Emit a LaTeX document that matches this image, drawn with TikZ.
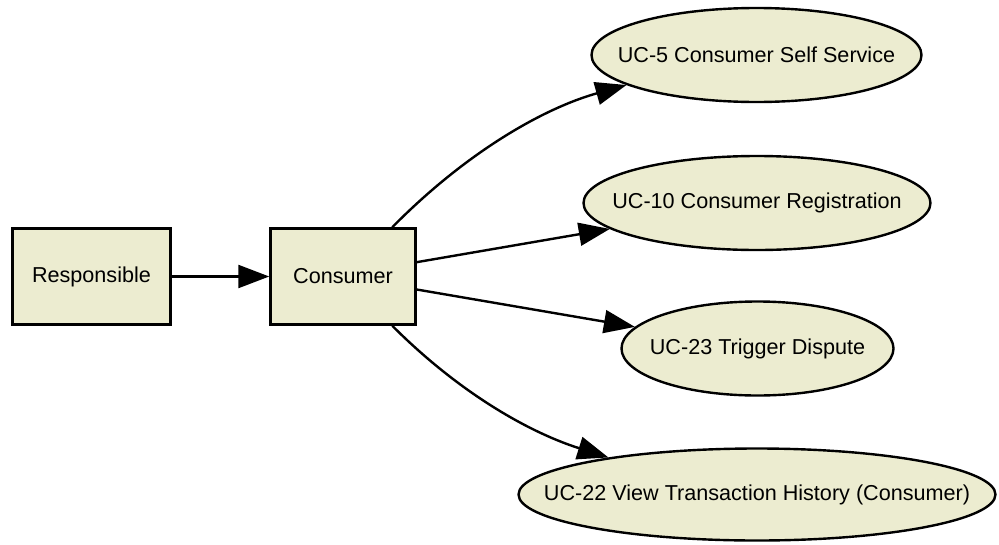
\documentclass[tikz,border=0pt]{standalone}
\usepackage{fontspec}
\setmainfont{Liberation Sans}
\usetikzlibrary{arrows.meta,shapes.geometric}
\definecolor{nodefill}{RGB}{236,236,208}
\newcommand{\zw}[1]{\makebox[0pt]{#1}}
\begin{document}
\begin{tikzpicture}[x=1pt,y=-1pt,
  box/.style={draw, rectangle, line width=2.5pt, fill=nodefill, inner sep=0pt,
    minimum height=96pt, font=\fontsize{21.6}{26}\selectfont},
  uc/.style={draw, ellipse, line width=2.4pt, fill=nodefill, inner sep=0pt,
    minimum height=94pt, font=\fontsize{21.6}{26}\selectfont},
  conn/.style={line width=2.4pt, -{Triangle[length=31pt,width=23pt]}}]
\useasboundingbox (0,0) rectangle (999,544);

\node[box, minimum width=158pt] (res) at (91.5,276.5) {Responsible};
\node[box, minimum width=145pt] (cons) at (343,276.5) {Consumer};

\node[uc, minimum width=330pt] (uc5) at (756.5,55) {\zw{UC-5 Consumer Self Service}};
\node[uc, minimum width=347pt] (uc10) at (757,203) {\zw{UC-10 Consumer Registration}};
\node[uc, minimum width=272pt] (uc23) at (757.5,348.5) {\zw{UC-23 Trigger Dispute}};
\node[uc, minimum width=477pt, minimum height=92pt] (uc22) at (757,494.5) {\zw{UC-22 View Transaction History (Consumer)}};

\draw[conn] (res.east) -- (cons.west);
\draw[conn] (cons.45) .. controls +(75,-76) and +(-82,23) .. (uc5.193);
\draw[conn] (cons.11) -- (uc10.190);
\draw[conn] (cons.-10) -- (uc23.170);
\draw[conn] (cons.-45) .. controls +(70,70) and +(-76,-24) .. (uc22.166);
\end{tikzpicture}
\end{document}
